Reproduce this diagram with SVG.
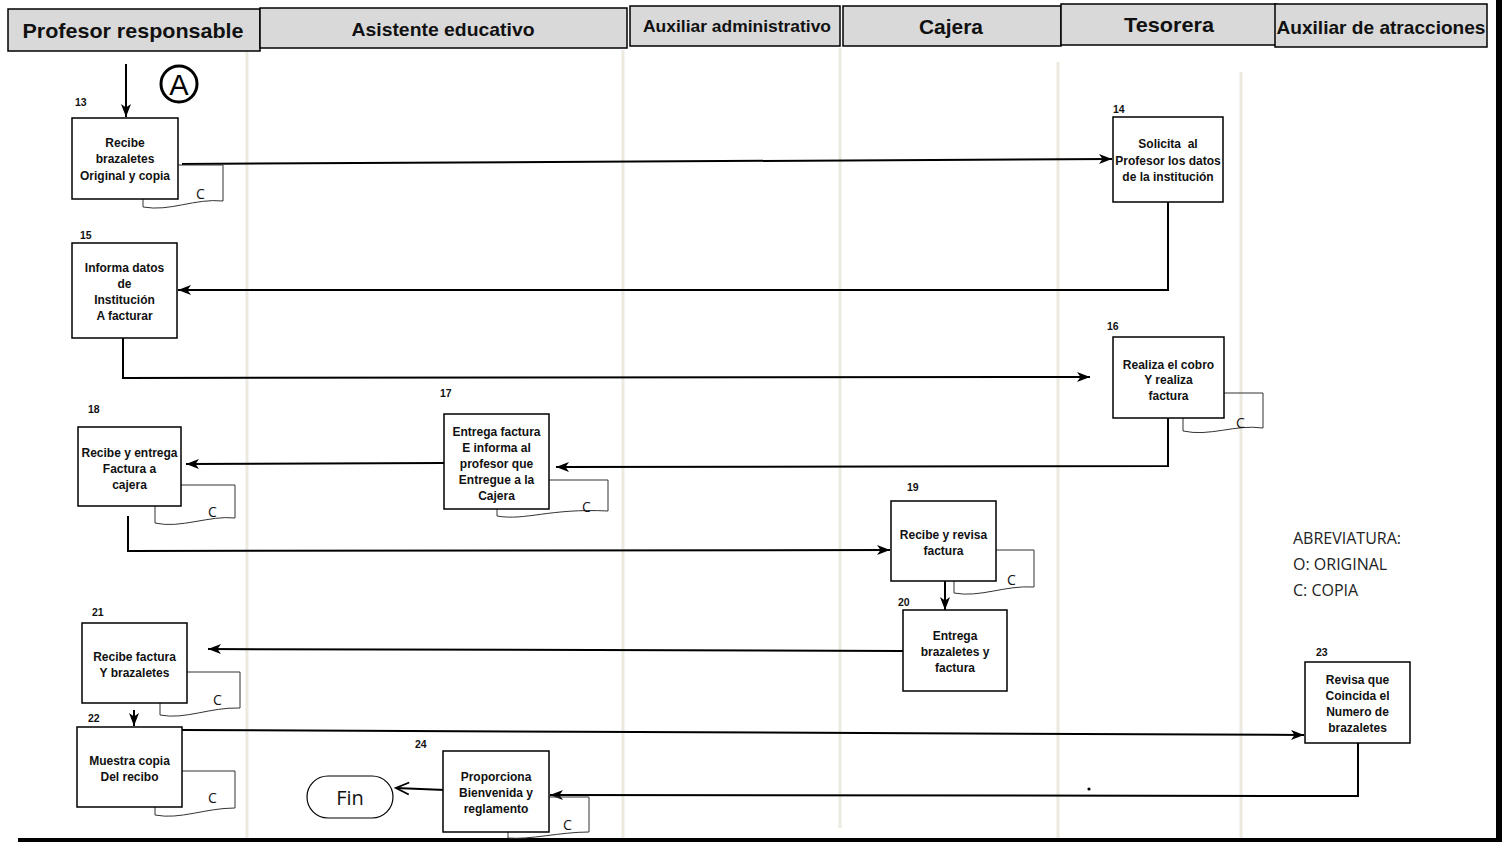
<svg xmlns="http://www.w3.org/2000/svg" width="1506" height="842" viewBox="0 0 1506 842">
  <style>
    .hdr { fill: #d9d9d9; stroke: #000; stroke-width: 1.5; }
    .hdrt { font-family: "Liberation Sans", Arial, sans-serif; font-weight: bold; text-anchor: middle; fill: #111; }
    .lane { stroke: #ece9de; stroke-width: 3; fill: none; }
    .box { fill: #fff; stroke: #000; stroke-width: 1.5; }
    .bt { font-family: "Liberation Sans", Arial, sans-serif; font-weight: bold; font-size: 12px; text-anchor: middle; fill: #111; }
    .num { font-family: "Liberation Sans", Arial, sans-serif; font-weight: bold; font-size: 10.5px; fill: #111; }
    .copy { fill: none; stroke: #333; stroke-width: 1; }
    .ct { font-family: "Open Sans", "Liberation Sans", sans-serif; font-size: 14px; fill: #111; }
    .conn { fill: none; stroke: #000; stroke-width: 2; }
    .legend { font-family: "Open Sans", "Liberation Sans", sans-serif; font-size: 16px; fill: #222; }
  </style>
  <defs>
    <marker id="arr" markerUnits="userSpaceOnUse" markerWidth="14" markerHeight="12" refX="13" refY="5" orient="auto">
      <path d="M0,0 L13,5 L0,10 L3.5,5 Z" fill="#000"/>
    </marker>
    <marker id="chev" markerUnits="userSpaceOnUse" markerWidth="16" markerHeight="16" refX="14" refY="7" orient="auto">
      <path d="M1,1 L14,7 L1,13" fill="none" stroke="#000" stroke-width="1.8"/>
    </marker>
  </defs>

  <rect width="1506" height="842" fill="#fff"/>

  <!-- lane separators -->
  <g id="lanes">
    <line class="lane" x1="247" y1="12" x2="247" y2="842"/>
    <line class="lane" x1="623" y1="50" x2="623" y2="842"/>
    <line class="lane" x1="840" y1="48" x2="840" y2="828"/>
    <line class="lane" x1="1058" y1="62" x2="1058" y2="842"/>
    <line class="lane" x1="1241" y1="72" x2="1241" y2="842"/>
  </g>

  <!-- lane headers -->
  <g id="headers">
    <g id="h-profesor">
      <rect class="hdr" x="8" y="9" width="252" height="42"/>
      <text class="hdrt" x="133" y="38" font-size="21" textLength="221" lengthAdjust="spacingAndGlyphs">Profesor responsable</text>
    </g>
    <g id="h-asistente">
      <rect class="hdr" x="260" y="8" width="367" height="40"/>
      <text class="hdrt" x="443" y="36" font-size="19" textLength="183" lengthAdjust="spacingAndGlyphs">Asistente educativo</text>
    </g>
    <g id="h-auxadm">
      <rect class="hdr" x="630" y="6" width="210" height="40"/>
      <text class="hdrt" x="737" y="32" font-size="16.5" textLength="188" lengthAdjust="spacingAndGlyphs">Auxiliar administrativo</text>
    </g>
    <g id="h-cajera">
      <rect class="hdr" x="843" y="6" width="218" height="40"/>
      <text class="hdrt" x="951" y="34" font-size="21" textLength="64" lengthAdjust="spacingAndGlyphs">Cajera</text>
    </g>
    <g id="h-tesorera">
      <rect class="hdr" x="1061" y="4" width="215" height="41"/>
      <text class="hdrt" x="1169" y="32" font-size="21" textLength="90" lengthAdjust="spacingAndGlyphs">Tesorera</text>
    </g>
    <g id="h-auxatr">
      <rect class="hdr" x="1275" y="4" width="212" height="43"/>
      <text class="hdrt" x="1381" y="34" font-size="19" textLength="209" lengthAdjust="spacingAndGlyphs">Auxiliar de atracciones</text>
    </g>
  </g>

  <!-- frame -->
  <rect x="1496" y="0" width="6" height="842" fill="#000"/>
  <rect x="18" y="838" width="1484" height="4" fill="#000"/>

  <!-- connector A -->
  <g id="connector-a">
    <circle cx="179" cy="84" r="18" fill="#fff" stroke="#000" stroke-width="3"/>
    <text x="179" y="95" font-family="'Liberation Sans', Arial, sans-serif" font-size="29" text-anchor="middle" fill="#000">A</text>
  </g>

  <!-- connectors -->
  <g id="connectors">
    <path class="conn" d="M126,64 L126,117" marker-end="url(#arr)"/>
    <path class="conn" d="M182,164 L1112,159" marker-end="url(#arr)"/>
    <path class="conn" d="M1168,202 L1168,290 L178,290" marker-end="url(#arr)"/>
    <path class="conn" d="M123,338 L123,378 L1090,377" marker-end="url(#arr)"/>
    <path class="conn" d="M1168,418 L1168,466 L556,467" marker-end="url(#arr)"/>
    <path class="conn" d="M444,463 L186,464" marker-end="url(#arr)"/>
    <path class="conn" d="M128,516 L128,551 L890,550" marker-end="url(#arr)"/>
    <path class="conn" d="M945,581 L945,610" marker-end="url(#arr)"/>
    <path class="conn" d="M903,651 L208,649" marker-end="url(#arr)"/>
    <path class="conn" d="M134,710 L134,726" marker-end="url(#arr)"/>
    <path class="conn" d="M182,730 L1304,735" marker-end="url(#arr)"/>
    <path class="conn" d="M1358,743 L1358,796 L550,795" marker-end="url(#arr)"/>
    <path class="conn" d="M445,790 L396,788" marker-end="url(#chev)"/>
  </g>

  <!-- step 13 -->
  <g id="n13">
    <text class="num" x="75" y="106">13</text>
    <path class="copy" d="M143,199 L143,207 C170,212 195,198 223,201 L223,165 L178,165"/>
    <text class="ct" x="196" y="199">C</text>
    <rect class="box" x="72" y="118" width="106" height="81"/>
    <text class="bt" x="125" y="147">Recibe</text>
    <text class="bt" x="125" y="163">brazaletes</text>
    <text class="bt" x="125" y="180">Original y copia</text>
  </g>

  <!-- step 14 -->
  <g id="n14">
    <text class="num" x="1113" y="113">14</text>
    <rect class="box" x="1113" y="117" width="110" height="85"/>
    <text class="bt" x="1168" y="148" xml:space="preserve">Solicita  al</text>
    <text class="bt" x="1168" y="165">Profesor los datos</text>
    <text class="bt" x="1168" y="181">de la institución</text>
  </g>

  <!-- step 15 -->
  <g id="n15">
    <text class="num" x="80" y="239">15</text>
    <rect class="box" x="72" y="243" width="105" height="95"/>
    <text class="bt" x="124.5" y="272">Informa datos</text>
    <text class="bt" x="124.5" y="288">de</text>
    <text class="bt" x="124.5" y="304">Institución</text>
    <text class="bt" x="124.5" y="320">A facturar</text>
  </g>

  <!-- step 16 -->
  <g id="n16">
    <text class="num" x="1107" y="330">16</text>
    <path class="copy" d="M1183,418 L1183,431 C1210,437 1235,424 1263,428 L1263,393 L1224,393"/>
    <text class="ct" x="1236" y="428">C</text>
    <rect class="box" x="1113" y="337" width="111" height="81"/>
    <text class="bt" x="1168.5" y="369">Realiza el cobro</text>
    <text class="bt" x="1168.5" y="384">Y realiza</text>
    <text class="bt" x="1168.5" y="400">factura</text>
  </g>

  <!-- step 17 -->
  <g id="n17">
    <text class="num" x="440" y="397">17</text>
    <path class="copy" d="M497,509 L497,516 C525,521 550,508 608,511 L608,480 L549,480"/>
    <text class="ct" x="582" y="512">C</text>
    <rect class="box" x="444" y="414" width="105" height="95"/>
    <text class="bt" x="496.5" y="436">Entrega factura</text>
    <text class="bt" x="496.5" y="452">E informa al</text>
    <text class="bt" x="496.5" y="468">profesor que</text>
    <text class="bt" x="496.5" y="484">Entregue a la</text>
    <text class="bt" x="496.5" y="500">Cajera</text>
  </g>

  <!-- step 18 -->
  <g id="n18">
    <text class="num" x="88" y="413">18</text>
    <path class="copy" d="M155,506 L155,523 C180,529 210,515 235,518 L235,485 L181,485"/>
    <text class="ct" x="208" y="517">C</text>
    <rect class="box" x="78" y="427" width="103" height="79"/>
    <text class="bt" x="129.5" y="457">Recibe y entrega</text>
    <text class="bt" x="129.5" y="473">Factura a</text>
    <text class="bt" x="129.5" y="489">cajera</text>
  </g>

  <!-- step 19 -->
  <g id="n19">
    <text class="num" x="907" y="491">19</text>
    <path class="copy" d="M954,581 L954,593 C980,598 1005,585 1034,587 L1034,550 L996,550"/>
    <text class="ct" x="1007" y="585">C</text>
    <rect class="box" x="891" y="501" width="105" height="80"/>
    <text class="bt" x="943.5" y="539">Recibe y revisa</text>
    <text class="bt" x="943.5" y="555">factura</text>
  </g>

  <!-- step 20 -->
  <g id="n20">
    <text class="num" x="898" y="606">20</text>
    <rect class="box" x="903" y="610" width="104" height="81"/>
    <text class="bt" x="955" y="640">Entrega</text>
    <text class="bt" x="955" y="656">brazaletes y</text>
    <text class="bt" x="955" y="672">factura</text>
  </g>

  <!-- step 21 -->
  <g id="n21">
    <text class="num" x="92" y="616">21</text>
    <path class="copy" d="M160,703 L160,715 C185,720 210,707 240,708 L240,672 L187,672"/>
    <text class="ct" x="213" y="705">C</text>
    <rect class="box" x="82" y="623" width="105" height="80"/>
    <text class="bt" x="134.5" y="661">Recibe factura</text>
    <text class="bt" x="134.5" y="677">Y brazaletes</text>
  </g>

  <!-- step 22 -->
  <g id="n22">
    <text class="num" x="88" y="722">22</text>
    <path class="copy" d="M155,807 L155,815 C180,820 205,808 235,808 L235,771 L182,771"/>
    <text class="ct" x="208" y="803">C</text>
    <rect class="box" x="77" y="727" width="105" height="80"/>
    <text class="bt" x="129.5" y="765">Muestra copia</text>
    <text class="bt" x="129.5" y="781">Del recibo</text>
  </g>

  <!-- step 23 -->
  <g id="n23">
    <text class="num" x="1316" y="656">23</text>
    <rect class="box" x="1305" y="662" width="105" height="81"/>
    <text class="bt" x="1357.5" y="684">Revisa que</text>
    <text class="bt" x="1357.5" y="700">Coincida el</text>
    <text class="bt" x="1357.5" y="716">Numero de</text>
    <text class="bt" x="1357.5" y="732">brazaletes</text>
  </g>

  <!-- step 24 -->
  <g id="n24">
    <text class="num" x="415" y="748">24</text>
    <path class="copy" d="M508,832 L508,838 C530,840 560,832 589,832 L589,797 L549,797"/>
    <text class="ct" x="563" y="830">C</text>
    <rect class="box" x="443" y="751" width="106" height="81"/>
    <text class="bt" x="496" y="781">Proporciona</text>
    <text class="bt" x="496" y="797">Bienvenida y</text>
    <text class="bt" x="496" y="813">reglamento</text>
  </g>

  <!-- end terminator -->
  <g id="fin">
    <rect x="307" y="776" width="86" height="42" rx="21" ry="21" fill="#fff" stroke="#000" stroke-width="1.2"/>
    <text x="350" y="805" font-family="'Open Sans', 'Liberation Sans', sans-serif" font-size="20" text-anchor="middle" fill="#111">Fin</text>
  </g>

  <circle cx="1089" cy="789" r="1.6" fill="#000"/>

  <!-- legend -->
  <g id="legend">
    <text class="legend" x="1293" y="544">ABREVIATURA:</text>
    <text class="legend" x="1293" y="570">O: ORIGINAL</text>
    <text class="legend" x="1293" y="596">C: COPIA</text>
  </g>
</svg>
